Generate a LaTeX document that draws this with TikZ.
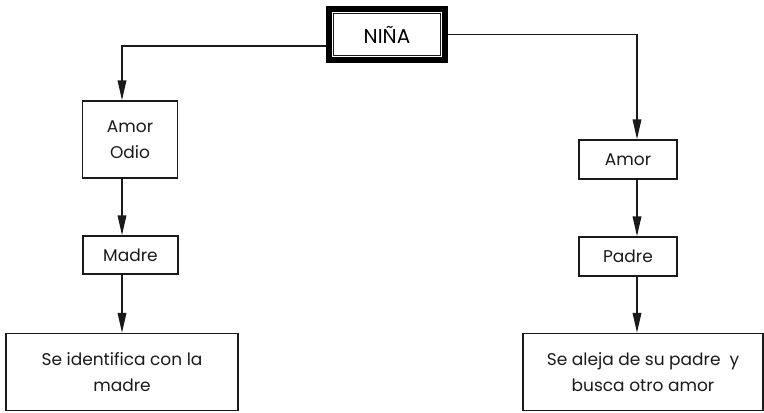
\documentclass[tikz,border=0pt]{standalone}
\usepackage{fontspec}
\setmainfont{Poppins}
\usepackage{tikz}
\usetikzlibrary{arrows.meta}
\definecolor{tinta}{HTML}{1A1A1A}
\tikzstyle{caja}=[rectangle, draw=tinta, line width=1.1pt, align=center, inner sep=0pt, text=tinta, font=\fontsize{12.75}{19.5}\selectfont]
\tikzstyle{raiz}=[rectangle, draw=black, line width=4.5pt, inner sep=0pt, minimum width=87pt, minimum height=38.25pt, font=\fontsize{15}{17}\selectfont]

\begin{document}
\begin{tikzpicture}[x=0.75pt, y=-0.75pt, line width=1.1pt, draw=tinta, ->, >={Triangle[length=15pt, width=6.5pt]}]
	\useasboundingbox (0,0) rectangle (764,412);
	\node[raiz] (nina) at (387,34.5) {NIÑA};
	\draw[-, line width=0.9pt] ([xshift=5.5pt, yshift=-5.5pt]nina.north west) rectangle ([xshift=-5.5pt, yshift=5.5pt]nina.south east);
	\node[caja, minimum width=71.25pt, minimum height=57.75pt] (amorodio) at (130,139.5) {Amor\\Odio};
	\node[caja, minimum width=71.25pt, minimum height=28.5pt] (madre) at (130.5,255) {Madre};
	\node[caja, minimum width=174pt, minimum height=57.75pt] (ident) at (122,372) {Se identifica con la\\madre};
	\node[caja, minimum width=73.5pt, minimum height=29.25pt] (amor) at (628,159.5) {Amor};
	\node[caja, minimum width=73.5pt, minimum height=29.25pt] (padre) at (628,256.5) {Padre};
	\node[caja, minimum width=180pt, minimum height=57.75pt] (alejo) at (643,372) {Se aleja de su padre \ y\\busca otro amor};
	\draw ([yshift=-8.6pt]nina.west) -| (amorodio.north -| ident.north);
	\draw (amorodio.south -| ident.north) -- (madre.north -| ident.north);
	\draw (madre.south -| ident.north) -- (ident.north);
	\draw (nina.east) -| ([xshift=6.75pt]amor.north);
	\draw ([xshift=6.75pt]amor.south) -- ([xshift=6.75pt]padre.north);
	\draw ([xshift=6.75pt]padre.south) -- ([xshift=6.75pt]padre.south |- alejo.north);
\end{tikzpicture}
\end{document}
